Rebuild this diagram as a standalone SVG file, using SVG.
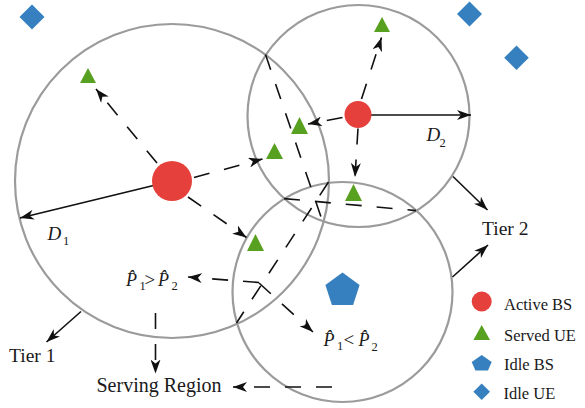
<svg xmlns="http://www.w3.org/2000/svg" width="585" height="408" viewBox="0 0 585 408">
<style>
.cov{fill:none;stroke:#9b9b9b;stroke-width:2.2}
.sol{stroke:#111;stroke-width:1.6;fill:none;marker-end:url(#ah)}
.dash{stroke:#111;stroke-width:1.6;fill:none;stroke-dasharray:16 15}
.da{marker-end:url(#ah)}
.abs{fill:#e5403b}
.ue{fill:#58a020}
.idle{fill:#3680c0}
text{font-family:"Liberation Serif","Times New Roman",serif;fill:#1a1a1a}
.it{font-style:italic}
.tier{font-size:19.5px}
.leg{font-size:16.5px}
.m{font-size:18px}
.sub{font-size:12.5px;font-style:normal}
.op{font-size:19px;font-style:normal}
</style>
<defs>
<marker id="ah" viewBox="0 0 14 10" refX="14" refY="5" markerWidth="14" markerHeight="10" markerUnits="userSpaceOnUse" orient="auto">
<path d="M0,0 L14,5 L0,10 L4,5 Z" fill="#111"/>
</marker>
</defs>
<rect width="585" height="408" fill="#fff"/>
<g id="coverage">
<circle id="tier1-cell" class="cov" cx="172" cy="181" r="157"/>
<circle id="tier2-cell-a" class="cov" cx="358.5" cy="116" r="111"/>
<circle id="tier2-cell-b" class="cov" cx="342.5" cy="292" r="110"/>
</g>
<g id="connectors">
<path class="dash da" d="M157,163 L96,89"/>
<path class="dash da" d="M194,177.5 L262.5,159"/>
<path class="dash da" d="M188,197 L246.5,237.5"/>
<path class="dash da" d="M361.5,99 L381.5,37.5"/>
<path class="dash da" d="M342.5,117.5 L308,124"/>
<path class="dash da" d="M358,128.5 L355,177"/>
<path class="dash" d="M265.5,54.6 L322.5,221.2"/>
<path class="dash" d="M284,198.6 L416,210.6"/>
<path class="dash" d="M328.5,182 L236.5,323"/>
<path class="dash da" d="M259,282.5 L188,277"/>
<path class="dash da" d="M259,283 L313,332"/>
<path class="dash da" d="M155.5,313 L155.5,373.5"/>
<path class="dash da" d="M332,387 L233,387"/>
<path class="sol" d="M172,181 L20,218"/>
<path class="sol" d="M358,115 L471,115"/>
<path class="sol" d="M453,176.5 L487.5,210"/>
<path class="sol" d="M452.5,277 L488,245"/>
<path class="sol" d="M81,311.5 L46.5,342"/>
</g>
<g id="bs1"><circle class="abs" cx="172" cy="181" r="20"/></g>
<g id="bs2"><circle class="abs" cx="358" cy="114.5" r="13.5"/></g>
<g id="idle-bs"><polygon class="idle" points="342.5,272.5 359.6,284.9 353.1,305.1 331.9,305.1 325.4,284.9"/></g>
<g id="ue1"><polygon class="ue" points="88,68 96,83 80,83"/></g>
<g id="ue2"><polygon class="ue" points="274.5,143 283,159 266,159"/></g>
<g id="ue3"><polygon class="ue" points="299.5,117 308,134 291,134"/></g>
<g id="ue4"><polygon class="ue" points="382,17 390,32 374,32"/></g>
<g id="ue5"><polygon class="ue" points="353.5,184 362,201 345,201"/></g>
<g id="ue6"><polygon class="ue" points="255.5,234 264,251 247,251"/></g>
<g id="idle-ue1"><polygon class="idle" points="32,4.5 44.5,17 32,29.5 19.5,17"/></g>
<g id="idle-ue2"><polygon class="idle" points="469.5,1.5 482,14 469.5,26.5 457,14"/></g>
<g id="idle-ue3"><polygon class="idle" points="516.5,45.5 528.8,57.8 516.5,70 504.2,57.8"/></g>
<g id="labels">
<text class="it m" x="47.5" y="239.5" style="font-size:19px">D<tspan class="sub" x="63" y="244.5">1</tspan></text>
<text class="it m" x="426.5" y="141" style="font-size:19px">D<tspan class="sub" x="439.5" y="147">2</tspan></text>
<text class="it m" x="126" y="286">P̂<tspan class="sub" x="139.5" y="289.5">1</tspan><tspan class="op" x="144.5" y="286">&gt;</tspan><tspan x="158" y="286">P̂</tspan><tspan class="sub" x="171.5" y="290">2</tspan></text>
<text class="it m" x="323.5" y="346">P̂<tspan class="sub" x="337" y="349.5">1</tspan><tspan class="op" x="343.5" y="346">&lt;</tspan><tspan x="358.5" y="346">P̂</tspan><tspan class="sub" x="371.5" y="351">2</tspan></text>
<text class="tier" x="9" y="361.5">Tier 1</text>
<text class="tier" x="482" y="235">Tier 2</text>
<text class="tier" x="96.5" y="391.5" style="font-size:20px">Serving Region</text>
</g>
<g id="legend">
<circle class="abs" cx="481.7" cy="301.5" r="10"/>
<polygon class="ue" points="481.7,325 490,340 473.4,340"/>
<polygon class="idle" points="481.7,355 491.7,362 488,370.5 475.4,370.5 471.7,362"/>
<polygon class="idle" points="481.7,383.4 490,391.7 481.7,400 473.4,391.7"/>
<text class="leg" x="504" y="309.5">Active BS</text>
<text class="leg" x="504" y="341">Served UE</text>
<text class="leg" x="504" y="370">Idle BS</text>
<text class="leg" x="503.5" y="398.5">Idle UE</text>
</g>
</svg>
